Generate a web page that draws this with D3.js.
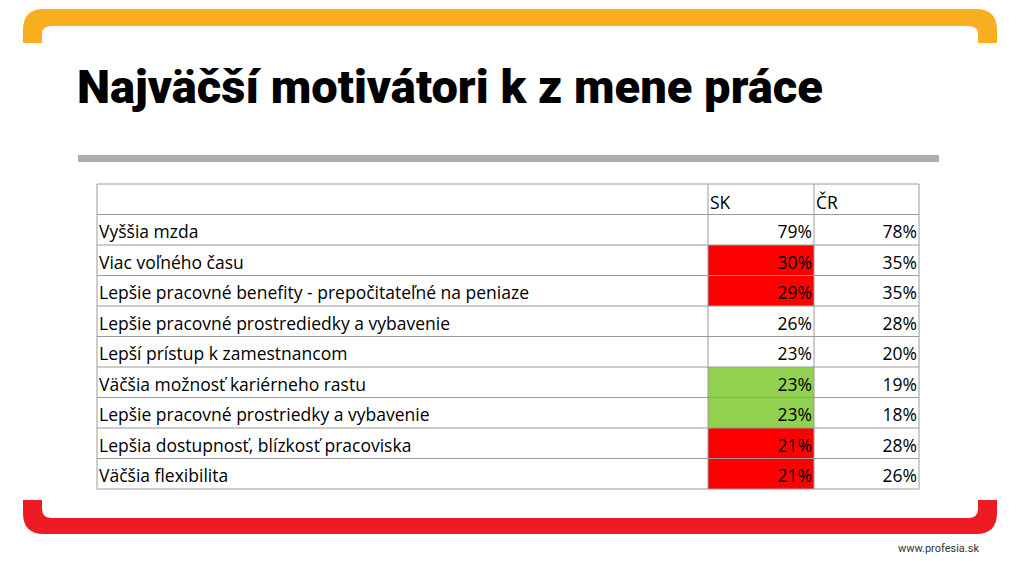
<!DOCTYPE html>
<html><head><meta charset="utf-8">
<script src="https://cdn.jsdelivr.net/npm/d3@7"></script>
<style>body{margin:0;background:#fff}svg{display:block}</style>
</head><body>
<svg width="1024" height="561"></svg>
<script>
// data
const labels = ['Vyššia mzda', 'Viac voľného času', 'Lepšie pracovné benefity - prepočitateľné na peniaze',
  'Lepšie pracovné prostrediedky a vybavenie', 'Lepší prístup k zamestnancom', 'Väčšia možnosť kariérneho rastu',
  'Lepšie pracovné prostriedky a vybavenie', 'Lepšia dostupnosť, blízkosť pracoviska', 'Väčšia flexibilita'];
const sk = [79, 30, 29, 26, 23, 23, 23, 21, 21];
const cr = [78, 35, 35, 28, 20, 19, 18, 28, 26];
const skFlag = ['none', 'red', 'red', 'none', 'none', 'green', 'green', 'red', 'red'];
const columns = ['', 'SK', 'ČR'];

const svg = d3.select('svg');
const font = '"Open Sans", sans-serif';

// brackets
svg.append('path').attr('fill', '#F9AE1F')
  .attr('d', 'M23,43 L23,30 Q23,9 44,9 L976,9 Q997,9 997,30 L997,43 L978,43 L978,34 Q978,26 968,26 L52,26 Q42,26 42,34 L42,43 Z');
svg.append('path').attr('fill', '#ED1C24')
  .attr('d', 'M23,500 L23,513 Q23,534 44,534 L976,534 Q997,534 997,513 L997,500 L978,500 L978,509 Q978,518 968,518 L52,518 Q42,518 42,509 L42,500 Z');

// title
svg.append('text').text('Najväčší motivátori k z mene práce')
  .attr('x', 77).attr('y', 103)
  .style('font-family', 'Roboto, sans-serif').style('font-weight', 900)
  .style('font-size', '47px').attr('textLength', 746).attr('lengthAdjust', 'spacingAndGlyphs');
svg.append('rect').attr('x', 78).attr('y', 155).attr('width', 861).attr('height', 7).attr('fill', '#AEAEAE');

// table
const x = d3.scaleOrdinal().domain(columns).range([97, 708, 814]);
const xEnd = 919;
const y = d3.scaleBand().domain(d3.range(labels.length + 1)).range([184, 489]);

const t = svg.append('g');
t.selectAll('rect.c').data(skFlag).join('rect').attr('class', 'c')
  .attr('x', x('SK')).attr('width', x('ČR') - x('SK'))
  .attr('y', (d, i) => y(i + 1)).attr('height', y.bandwidth())
  .attr('fill', d => d === 'red' ? '#FF0000' : d === 'green' ? '#92D050' : 'none');

t.selectAll('line.h').data(d3.range(labels.length + 2)).join('line').attr('class', 'h')
  .attr('x1', x('')).attr('x2', xEnd)
  .attr('y1', i => i > labels.length ? y.range()[1] : y(i)).attr('y2', i => i > labels.length ? y.range()[1] : y(i))
  .attr('stroke', '#9a9a9a').attr('stroke-width', 1.2);
[x(''), x('SK'), x('ČR'), xEnd].forEach(v => t.append('line')
  .attr('x1', v).attr('x2', v).attr('y1', y.range()[0]).attr('y2', y.range()[1])
  .attr('stroke', '#9a9a9a').attr('stroke-width', 1));

const txt = (s, xx, yy, anchor) => t.append('text').text(s).attr('x', xx).attr('y', yy)
  .attr('text-anchor', anchor).style('font-family', font).style('font-size', '17.5px').attr('fill', '#000');

txt('SK', x('SK') + 2, y(0) + y.bandwidth() - 6, 'start');
txt('ČR', x('ČR') + 2, y(0) + y.bandwidth() - 6, 'start');
labels.forEach((l, i) => {
  const yy = y(i + 1) + y.bandwidth() - 7;
  txt(l, x('') + 2, yy, 'start');
  txt(sk[i] + '%', x('ČR') - 2, yy, 'end');
  txt(cr[i] + '%', xEnd - 2, yy, 'end');
});

svg.append('text').text('www.profesia.sk').attr('x', 979).attr('y', 552).attr('text-anchor', 'end')
  .style('font-family', 'Roboto, sans-serif').style('font-size', '11px').attr('fill', '#333');
</script>
</body></html>
